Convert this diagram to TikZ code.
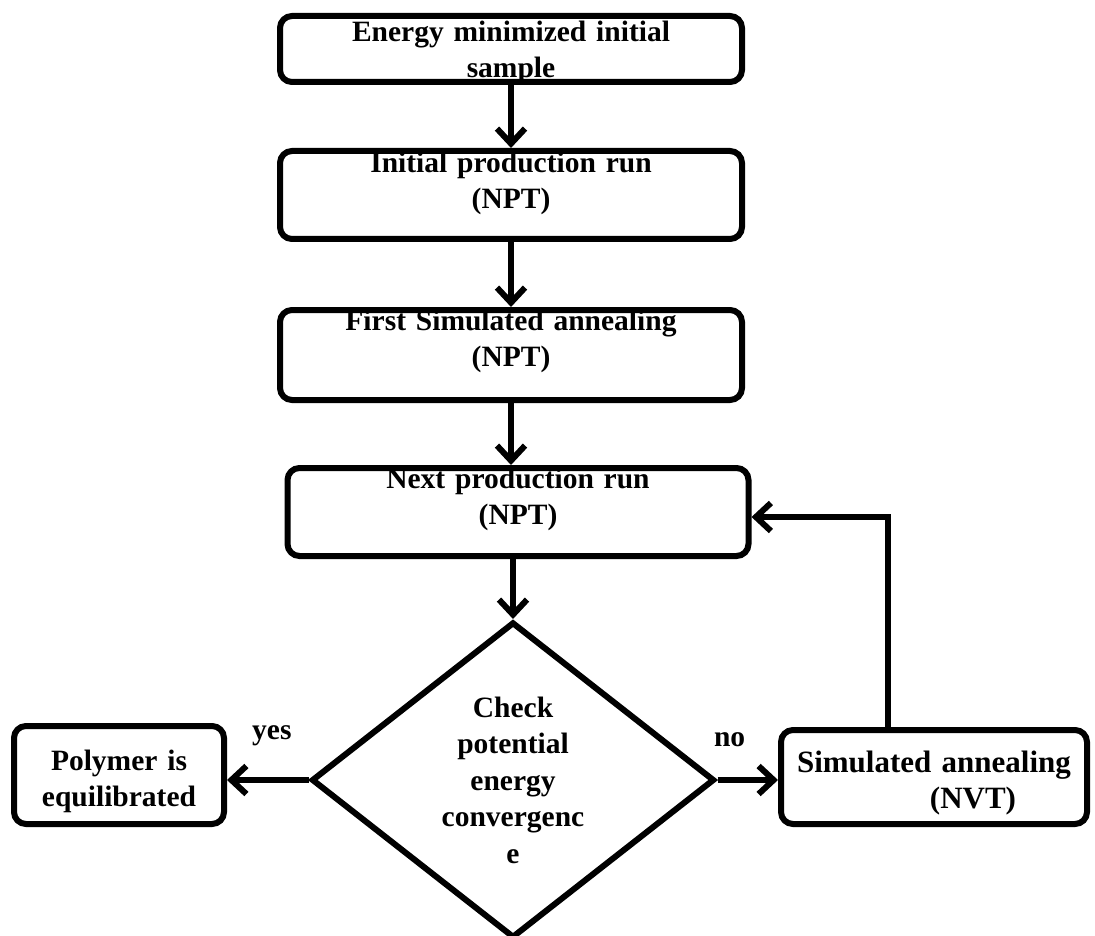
\documentclass[tikz,border=0pt]{standalone}
\usepackage{fontspec}
\setmainfont{Liberation Serif}
\usetikzlibrary{shapes.geometric,arrows.meta,positioning,calc}

\begin{document}
\begin{tikzpicture}[
        x=1pt, y=-1pt,
        stepbox/.style={rectangle, draw, line width=6pt, rounded corners=12pt, inner sep=0pt, align=center, font=\fontsize{29.5pt}{36pt}\selectfont\bfseries},
        boxsize/.style n args={4}{minimum width=#1, text width=#1, minimum height=#2, text height=#3, text depth=#4},
        decision/.style={diamond, draw, line width=6pt, inner sep=0pt, minimum width=403pt, minimum height=316pt, align=center, font=\fontsize{29.5pt}{36.5pt}\selectfont\bfseries},
        arrow/.style={-{Straight Barb[length=15pt,width=28pt]}, line width=6pt},
        answer/.style={font=\fontsize{29.5pt}{36pt}\selectfont\bfseries, inner sep=0pt}
    ]
    \useasboundingbox (0,0) rectangle (1095,936);

    \node[stepbox, boxsize={462pt}{66pt}{26pt}{40pt}] (emin) at (511,49) {Energy minimized initial\\sample};
    \node[stepbox, boxsize={462pt}{88pt}{22pt}{66pt}] (init) at (511,195) {Initial production run\\(NPT)};
    \node[stepbox, boxsize={462pt}{90pt}{20pt}{70pt}] (first) at (511,355) {First Simulated annealing\\(NPT)};
    \node[stepbox, boxsize={461pt}{88pt}{20pt}{68pt}] (next) at (518,512) {Next production run\\(NPT)};
    \node[decision] (check) at (513,780) {Check\\potential\\energy\\convergenc\\e};
    \node[stepbox, boxsize={210pt}{98pt}{44pt}{54pt}] (equil) at (119,775) {Polymer is\hspace*{30pt}\\equilibrated};
    \node[stepbox, boxsize={306pt}{94pt}{42pt}{52pt}, font=\fontsize{31pt}{36pt}\selectfont\bfseries] (anneal) at (934,777) {Simulated annealing\\\hspace*{78pt}(NVT)};

    \draw[arrow] (emin) -- (init);
    \draw[arrow] (init) -- (first);
    \draw[arrow] (first.south) -- (first.south |- next.north);
    \draw[arrow] (next.south -| check.north) -- (check.north);

    \draw[arrow] (check.west) -- node[answer, pos=0.45, yshift=44pt] (yes) {yes} (check.west -| equil.east);
    \draw[arrow] (check.east) -- node[answer, pos=0.2, yshift=40pt] (no) {no} (check.east -| anneal.west);

    \draw[arrow] ([xshift=-46pt]anneal.north) |- ([yshift=-5pt]next.east);

\end{tikzpicture}
\end{document}
